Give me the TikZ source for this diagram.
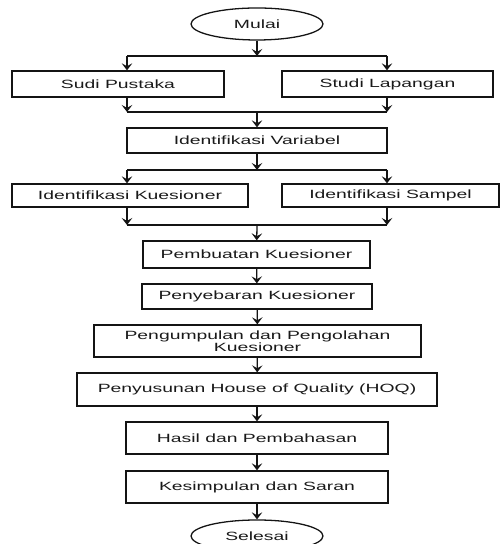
\documentclass[tikz,border=0pt]{standalone}
\usepackage{fontspec}
\setmainfont{Liberation Sans}[FakeStretch=1.62]
\usepackage{tikz}
\usetikzlibrary{shapes.geometric,arrows.meta,positioning}

\begin{document}
\begin{tikzpicture}[
  box/.style={draw=cl,line width=1.1pt,shape=rectangle,inner sep=0pt,text=ct,font=\fontsize{10.2}{10}\selectfont,align=center},
  term/.style={draw=cl,line width=1.1pt,shape=ellipse,inner sep=0pt,minimum width=3.96cm,minimum height=0.96cm,text=ct,font=\fontsize{10.2}{10}\selectfont},
  post/.style={draw=cl,line width=1.1pt,-{Stealth[length=6pt,width=9pt,inset=2.5pt]}},
  link/.style={draw=cl,line width=1.1pt}]
%
\useasboundingbox (0,0) rectangle (15.0cm,16.32cm);
%
\definecolor{cl}{rgb}{0.08,0.08,0.08}
\definecolor{ct}{rgb}{0.1,0.1,0.1}
%
\node[term] (mulai) at (7.71,15.60) {Mulai};
\node[box,minimum width=6.36cm,minimum height=0.78cm] (pustaka) at (3.54,13.80) {Sudi Pustaka};
\node[box,minimum width=6.33cm,minimum height=0.78cm] (lapangan) at (11.625,13.80) {Studi Lapangan};
\node[box,minimum width=7.80cm,minimum height=0.75cm] (variabel) at (7.71,12.105) {Identifikasi Variabel};
\node[box,minimum width=7.08cm,minimum height=0.69cm] (idkues) at (3.90,10.455) {Identifikasi Kuesioner};
\node[box,minimum width=6.51cm,minimum height=0.69cm] (sampel) at (11.715,10.455) {Identifikasi Sampel};
\node[box,minimum width=6.81cm,minimum height=0.81cm] (pembuatan) at (7.695,8.685) {Pembuatan Kuesioner};
\node[box,minimum width=6.90cm,minimum height=0.75cm] (penyebaran) at (7.71,7.425) {Penyebaran Kuesioner};
\node[box,minimum width=9.81cm,minimum height=0.96cm] (pengumpulan) at (7.725,6.09) {Pengumpulan dan Pengolahan\\Kuesioner};
\node[box,minimum width=10.80cm,minimum height=0.99cm] (hoq) at (7.71,4.635) {Penyusunan House of Quality (HOQ)};
\node[box,minimum width=7.86cm,minimum height=0.96cm] (hasil) at (7.71,3.18) {Hasil dan Pembahasan};
\node[box,minimum width=7.86cm,minimum height=0.96cm] (kesimpulan) at (7.71,1.71) {Kesimpulan dan Saran};
\node[term] (selesai) at (7.71,0.24) {Selesai};
%
\coordinate (split1) at (7.71,14.64);
\coordinate (split1l) at (3.81,14.64);
\coordinate (split1r) at (11.61,14.64);
\coordinate (merge1) at (7.71,12.96);
\coordinate (merge1l) at (3.81,12.96);
\coordinate (merge1r) at (11.61,12.96);
\coordinate (split2) at (7.71,11.22);
\coordinate (split2l) at (3.81,11.22);
\coordinate (split2r) at (11.61,11.22);
\coordinate (merge2) at (7.71,9.57);
\coordinate (merge2l) at (3.81,9.57);
\coordinate (merge2r) at (11.61,9.57);
%
\draw[post] (mulai) -- (split1);
\draw[link] (split1l) -- (split1r);
\draw[post] (split1l) -- (split1l |- pustaka.north);
\draw[post] (split1r) -- (split1r |- lapangan.north);
\draw[post] (merge1l |- pustaka.south) -- (merge1l);
\draw[post] (merge1r |- lapangan.south) -- (merge1r);
\draw[link] (merge1l) -- (merge1r);
\draw[post] (merge1) -- (variabel);
%
\draw[post] (variabel) -- (split2);
\draw[link] (split2l) -- (split2r);
\draw[post] (split2l) -- (split2l |- idkues.north);
\draw[post] (split2r) -- (split2r |- sampel.north);
\draw[post] (merge2l |- idkues.south) -- (merge2l);
\draw[post] (merge2r |- sampel.south) -- (merge2r);
\draw[link] (merge2l) -- (merge2r);
\draw[post] (merge2) -- (pembuatan);
%
\draw[post] (pembuatan) -- (penyebaran);
\draw[post] (penyebaran) -- (pengumpulan);
\draw[post] (pengumpulan) -- (hoq);
\draw[post] (hoq) -- (hasil);
\draw[post] (hasil) -- (kesimpulan);
\draw[post] (kesimpulan) -- (selesai);
%
\end{tikzpicture}
\end{document}
